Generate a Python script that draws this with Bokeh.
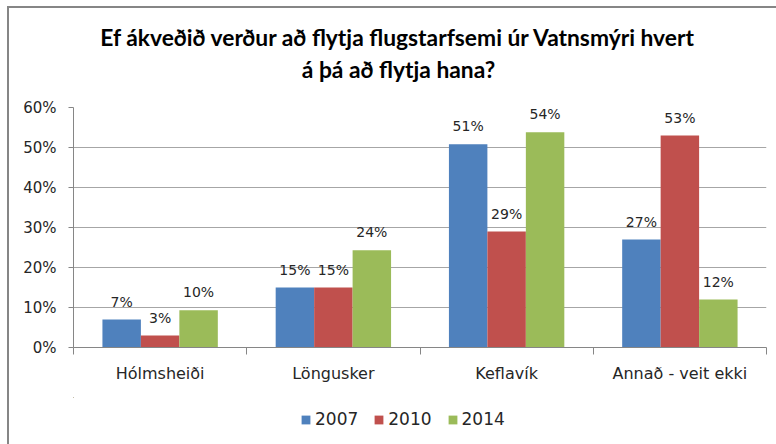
from bokeh.plotting import figure
from bokeh.layouts import column
from bokeh.models import (Range1d, FixedTicker, NumeralTickFormatter, Legend,
                          LegendItem, ColumnDataSource)
from bokeh.core.properties import value
from bokeh.embed import file_html
from bokeh.resources import INLINE

categories = ["Hólmsheiði", "Löngusker", "Keflavík", "Annað - veit ekki"]
series = ["2007", "2010", "2014"]
v2007 = [0.07, 0.15, 0.508, 0.27]
v2010 = [0.03, 0.15, 0.29, 0.53]
v2014 = [0.093, 0.243, 0.538, 0.12]
lab2007 = ["7%", "15%", "51%", "27%"]
lab2010 = ["3%", "15%", "29%", "53%"]
lab2014 = ["10%", "24%", "54%", "12%"]
colors = ["#4F81BD", "#C0504D", "#9BBB59"]
y_ticks = [0, 0.1, 0.2, 0.3, 0.4, 0.5, 0.6]
title_lines = ["Ef ákveðið verður að flytja flugstarfsemi úr Vatnsmýri hvert",
               "á þá að flytja hana?"]

FONT = "DejaVu Sans"
GRAY = "#868686"
TXT = "#262626"
W = 767
LEFT, RIGHT = 64, 10

# ---- title strip (pixel-unit frame, aligned with the chart frame) ----
tf = figure(width=W, height=89, output_backend="svg", toolbar_location=None,
            x_range=Range1d(LEFT, W - RIGHT), y_range=Range1d(0, 89),
            x_axis_location=None, y_axis_location=None,
            min_border_left=LEFT, min_border_right=RIGHT,
            min_border_top=0, min_border_bottom=0)
tf.grid.visible = False
tf.outline_line_color = None
tsrc = ColumnDataSource(dict(x=[389, 389], y=[61, 29], t=title_lines))
tf.text(x="x", y="y", text="t", source=tsrc, text_align="center",
        text_baseline="middle", text_font=value("Lato"), text_font_style="bold",
        text_font_size="22.8px", text_color="#000000")

# ---- main chart ----
p = figure(width=W, height=300, output_backend="svg", toolbar_location=None,
           x_range=Range1d(0, 4), y_range=Range1d(0, 0.6),
           min_border_left=LEFT, min_border_right=RIGHT, min_border_top=10,
           min_border_bottom=50)
p.outline_line_color = None
p.xgrid.grid_line_color = None
p.ygrid.grid_line_color = "#a6a6a6"
p.ygrid.ticker = FixedTicker(ticks=y_ticks)

centers = [i + 0.5 for i in range(len(categories))]
width = 0.222
offsets = [-width, 0.0, width]
vals = [v2007, v2010, v2014]
labs = [lab2007, lab2010, lab2014]
for k in range(3):
    xs = [c + offsets[k] for c in centers]
    src = ColumnDataSource(dict(x=xs, top=vals[k], lab=labs[k]))
    p.vbar(x="x", top="top", width=width, source=src, fill_color=colors[k],
           line_color=None)
    p.text(x="x", y="top", text="lab", source=src, text_align="center",
           text_baseline="middle", y_offset=-18, text_font=value(FONT),
           text_font_size="14px", text_color=TXT)

ya = p.yaxis[0]
ya.ticker = FixedTicker(ticks=y_ticks)
ya.formatter = NumeralTickFormatter(format="0%")
ya.axis_line_color = GRAY
ya.major_tick_line_color = GRAY
ya.major_tick_out = 5
ya.major_tick_in = 0
ya.minor_tick_line_color = None
ya.major_label_standoff = 12
ya.major_label_text_font = FONT
ya.major_label_text_font_size = "15px"
ya.major_label_text_color = TXT

xa = p.xaxis[0]
xa.ticker = FixedTicker(ticks=centers, minor_ticks=[0, 1, 2, 3, 4])
xa.major_label_overrides = {c: n for c, n in zip(centers, categories)}
xa.axis_line_color = GRAY
xa.major_tick_line_color = None
xa.major_tick_out = 0
xa.major_tick_in = 0
xa.minor_tick_line_color = GRAY
xa.minor_tick_out = 7
xa.minor_tick_in = 0
xa.major_label_standoff = 9
xa.major_label_text_font = FONT
xa.major_label_text_font_size = "16px"
xa.major_label_text_color = TXT

# ---- legend strip (series bars lie far outside its view; only the legend shows) ----
lf = figure(width=W, height=47, output_backend="svg", toolbar_location=None,
            x_range=Range1d(40, 44), y_range=Range1d(-40, -39),
            x_axis_location=None, y_axis_location=None,
            min_border_left=LEFT, min_border_right=RIGHT,
            min_border_top=0, min_border_bottom=0)
lf.grid.visible = False
lf.outline_line_color = None
items = []
for k in range(3):
    r = lf.vbar(x=centers, top=vals[k], width=width, fill_color=colors[k],
                line_color=None)
    items.append(LegendItem(label=series[k], renderers=[r]))
legend = Legend(items=items, orientation="horizontal", location=(227, 15),
                padding=0, margin=0, spacing=15, label_standoff=4,
                glyph_width=11, glyph_height=11, border_line_color=None,
                background_fill_alpha=0, label_text_font=FONT,
                label_text_font_size="17px", label_text_color=TXT)
lf.add_layout(legend)

layout = column(tf, p, lf, spacing=0,
                styles={"margin-left": "7px", "margin-top": "6px",
                        "border-left": "2px solid #868686",
                        "border-top": "2px solid #868686"})

open("out.html", "w").write(file_html(layout, INLINE))
